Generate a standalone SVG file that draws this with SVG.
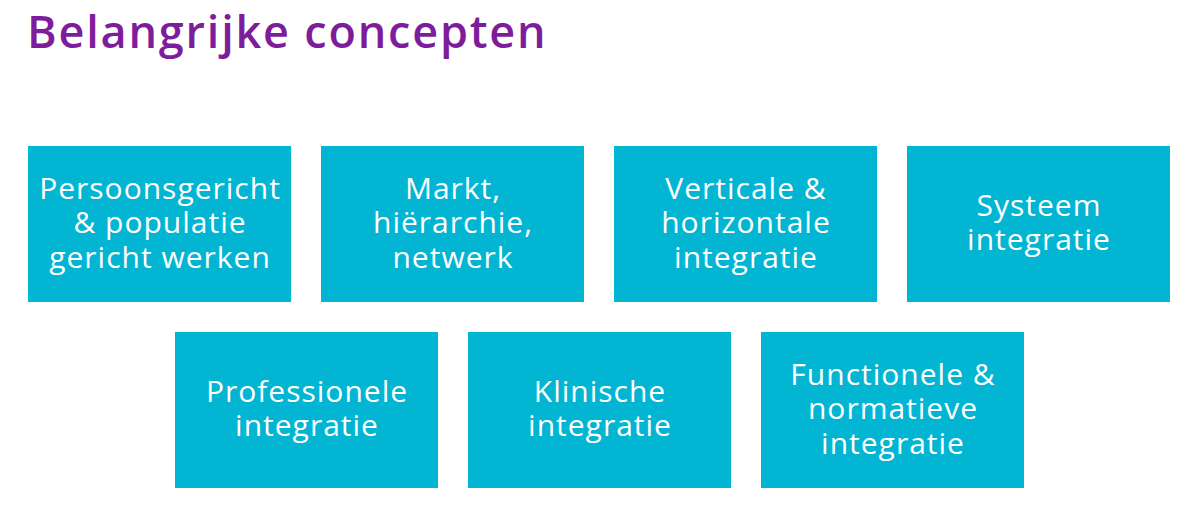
<svg xmlns="http://www.w3.org/2000/svg" width="1186" height="508" viewBox="0 0 1186 508">
<style>
.box{fill:#02B5D2}
.lbl{font-family:"Open Sans","Liberation Sans",sans-serif;font-size:30px;letter-spacing:1px;fill:#fff;text-anchor:middle;font-variant-ligatures:none}
.title{font-family:"Open Sans","Liberation Sans",sans-serif;font-weight:600;font-size:45px;letter-spacing:1.8px;fill:#7E1D9B}
</style>
<rect width="1186" height="508" fill="#fff"/>
<text class="title" x="27" y="48">Belangrijke concepten</text>
<g id="node1"><rect class="box" x="28" y="146" width="263" height="156"/><text class="lbl"><tspan x="160" y="199">Persoonsgericht</tspan><tspan x="160" y="233">&amp; populatie</tspan><tspan x="160" y="268">gericht werken</tspan></text></g>
<g id="node2"><rect class="box" x="321" y="146" width="263" height="156"/><text class="lbl"><tspan x="453" y="199">Markt,</tspan><tspan x="453" y="233">hiërarchie,</tspan><tspan x="453" y="268">netwerk</tspan></text></g>
<g id="node3"><rect class="box" x="614" y="146" width="263" height="156"/><text class="lbl"><tspan x="746" y="199">Verticale &amp;</tspan><tspan x="746" y="233">horizontale</tspan><tspan x="746" y="268">integratie</tspan></text></g>
<g id="node4"><rect class="box" x="907" y="146" width="263" height="156"/><text class="lbl"><tspan x="1039" y="216">Systeem</tspan><tspan x="1039" y="250">integratie</tspan></text></g>
<g id="node5"><rect class="box" x="175" y="332" width="263" height="156"/><text class="lbl"><tspan x="307" y="402">Professionele</tspan><tspan x="307" y="436">integratie</tspan></text></g>
<g id="node6"><rect class="box" x="468" y="332" width="263" height="156"/><text class="lbl"><tspan x="600" y="402">Klinische</tspan><tspan x="600" y="436">integratie</tspan></text></g>
<g id="node7"><rect class="box" x="761" y="332" width="263" height="156"/><text class="lbl"><tspan x="893" y="385">Functionele &amp;</tspan><tspan x="893" y="419">normatieve</tspan><tspan x="893" y="454">integratie</tspan></text></g>
<g id="connectors"/>
</svg>
